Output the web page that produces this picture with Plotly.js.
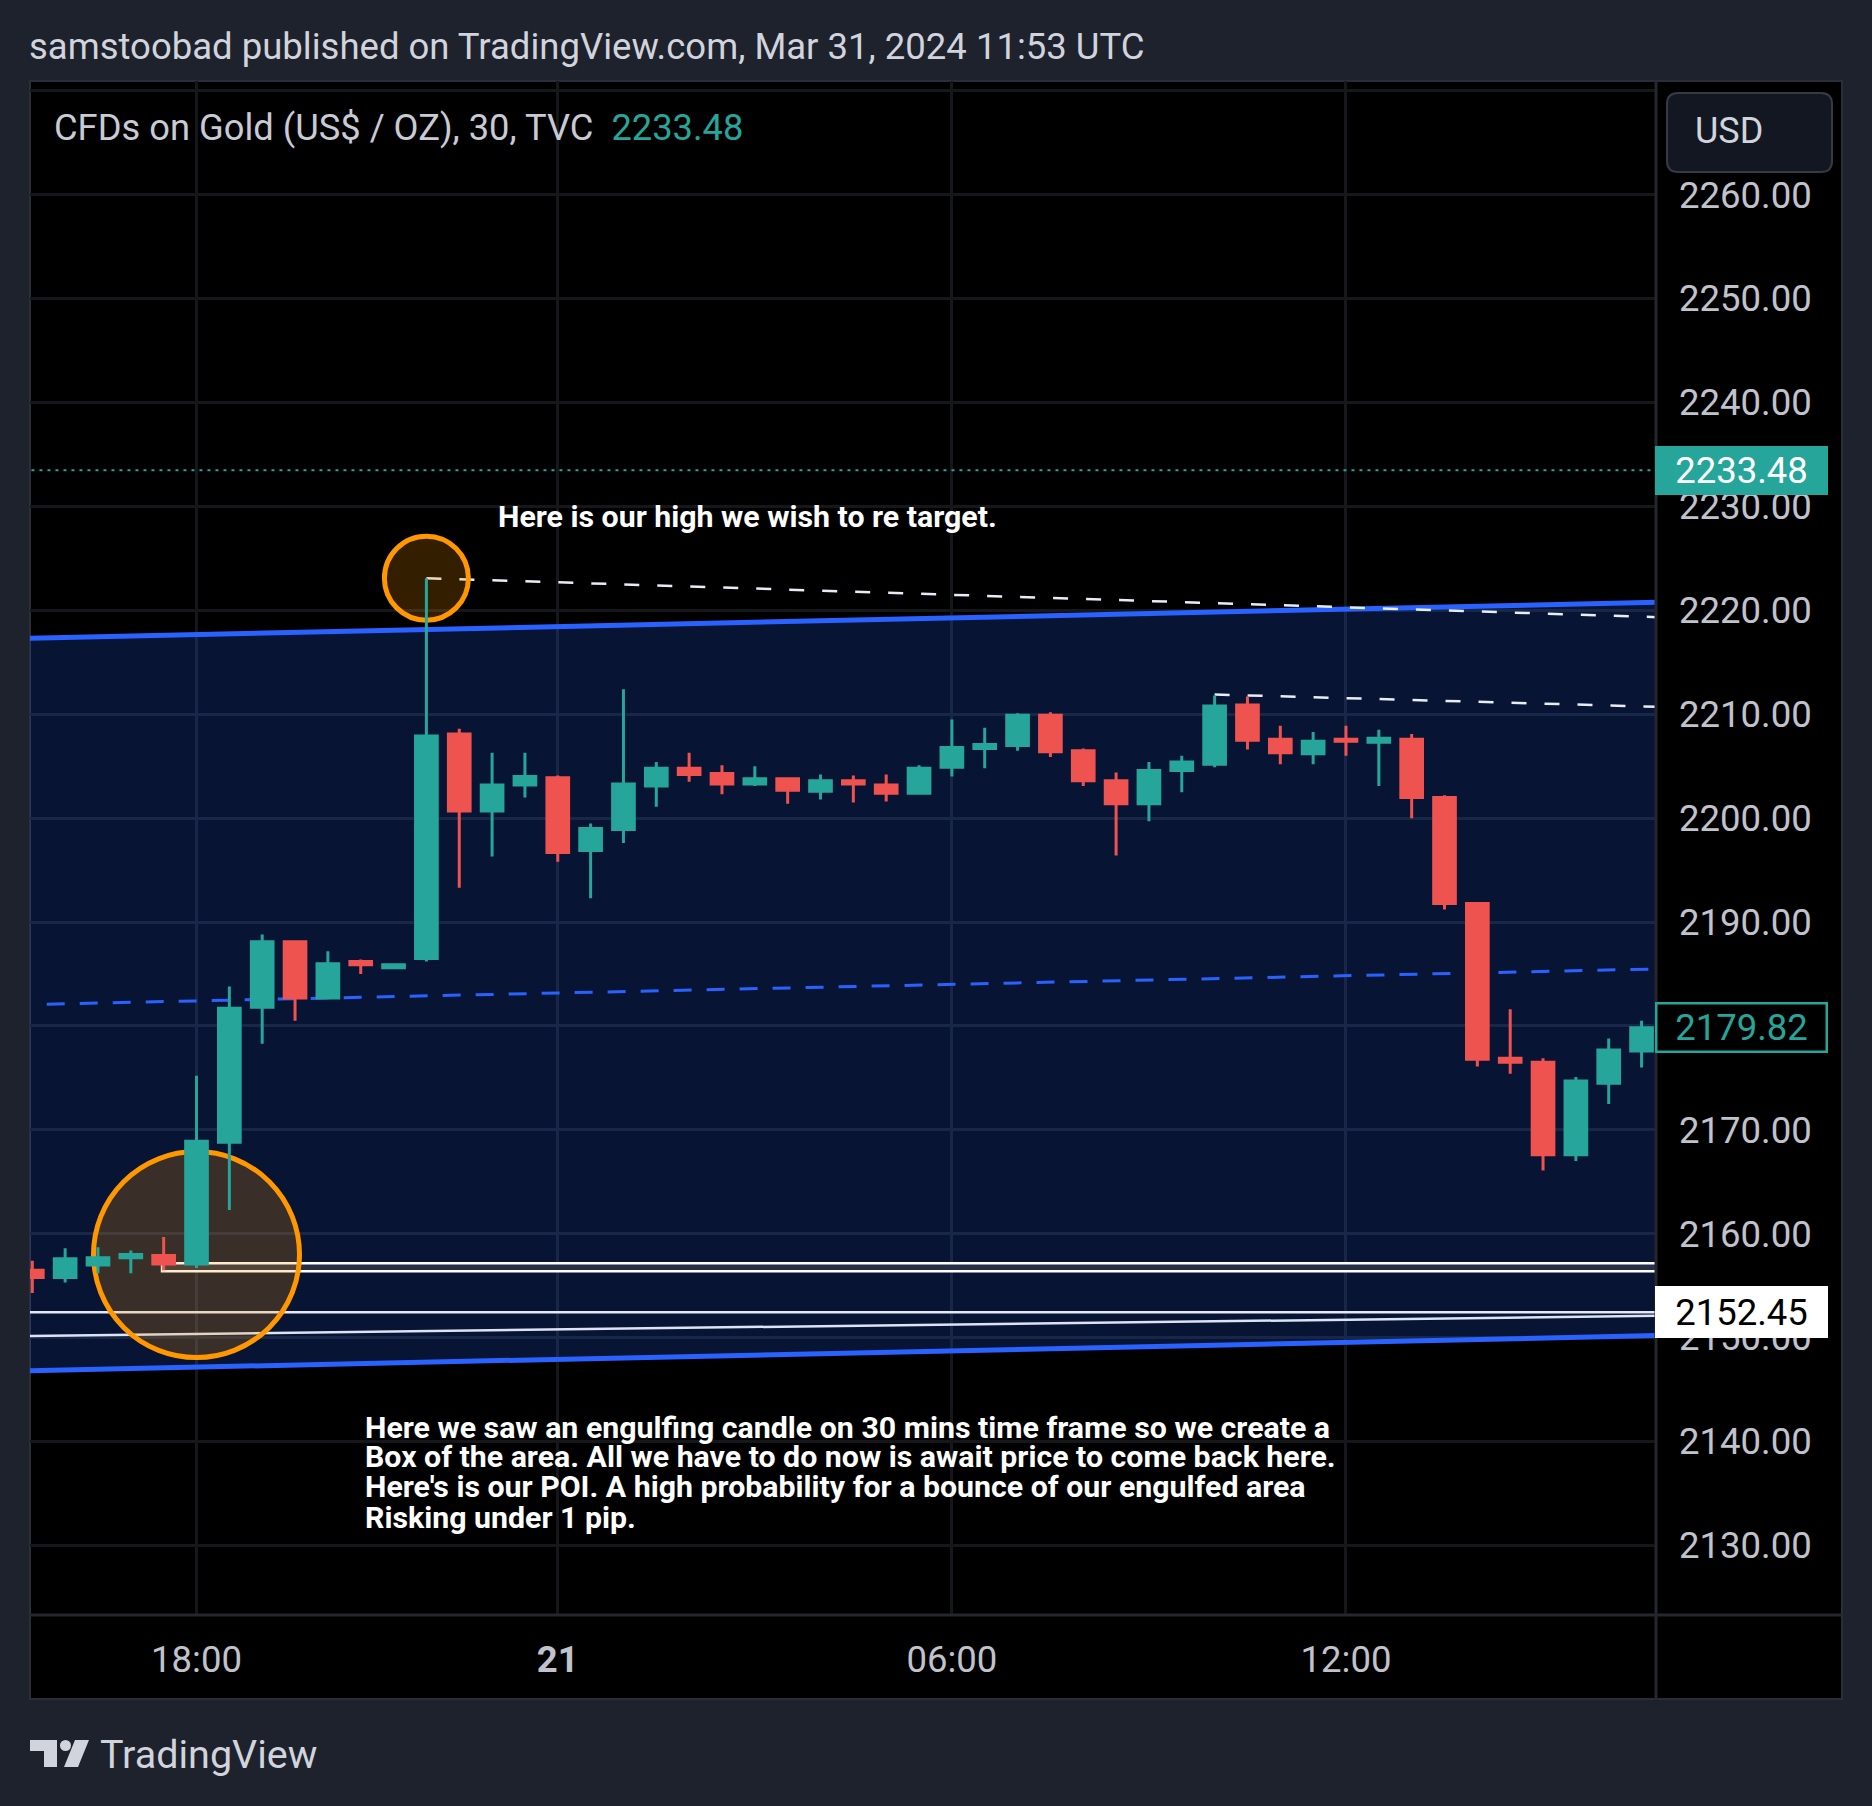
<!DOCTYPE html>
<html>
<head>
<meta charset="utf-8">
<script src="https://cdn.plot.ly/plotly-3.0.1.min.js"></script>
<style>
html,body{margin:0;padding:0;background:#1e222d;}
#chart{width:1872px;height:1806px;}
</style>
</head>
<body>
<div id="chart"></div>
<script>
// ---------------- DATA ----------------
const bars = [0,1,2,3,4,5,6,7,8,9,10,11,12,13,14,15,16,17,18,19,20,21,22,23,24,25,26,27,28,29,30,31,32,33,34,35,36,37,38,39,40,41,42,43,44,45,46,47,48,49];
const opens  = [2156.5,2155.8,2157.0,2157.7,2157.9,2157.1,2168.8,2181.8,2188.1,2182.7,2186.2,2185.6,2186.5,2208.1,2200.7,2203.2,2203.9,2196.9,2198.9,2203.1,2204.8,2204.3,2203.3,2203.8,2202.6,2203.6,2203.2,2202.4,2204.9,2206.7,2207.0,2209.9,2206.5,2203.6,2201.4,2204.6,2205.2,2210.9,2207.6,2206.2,2207.6,2207.3,2207.6,2202.0,2191.8,2176.9,2176.5,2167.6,2174.5,2177.6];
const highs  = [2157.4,2158.6,2158.7,2158.4,2159.7,2175.2,2183.8,2188.8,2188.1,2187.2,2186.4,2185.9,2223.1,2208.6,2206.3,2206.3,2204.1,2199.5,2212.4,2205.4,2206.3,2205.1,2205.0,2203.9,2204.2,2204.1,2204.2,2205.1,2209.5,2208.7,2210.1,2210.2,2206.7,2204.4,2205.4,2206.0,2211.8,2211.7,2208.9,2208.3,2208.9,2208.5,2208.1,2202.2,2191.9,2181.6,2176.9,2175.1,2178.8,2180.5];
const lows   = [2154.3,2155.3,2156.2,2156.2,2156.5,2156.7,2162.3,2178.3,2180.5,2182.6,2185.0,2185.6,2186.2,2193.3,2196.3,2202.0,2195.8,2192.3,2197.6,2201.1,2203.5,2202.3,2203.1,2201.4,2201.8,2201.5,2201.6,2202.3,2204.0,2204.8,2206.5,2205.9,2203.1,2196.4,2199.7,2202.5,2204.9,2206.6,2205.2,2205.2,2206.0,2203.1,2200.0,2191.2,2176.1,2175.4,2166.1,2167.0,2172.5,2176.0];
const closes = [2155.8,2157.6,2157.7,2158.0,2157.1,2168.9,2181.7,2188.1,2182.7,2186.0,2185.9,2185.9,2207.9,2200.7,2203.2,2204.0,2196.7,2199.0,2203.3,2204.8,2204.2,2203.3,2203.8,2202.7,2203.6,2203.3,2202.4,2204.8,2206.8,2207.1,2209.9,2206.4,2203.6,2201.4,2204.6,2205.4,2210.8,2207.5,2206.3,2207.4,2207.4,2207.7,2202.0,2191.8,2176.8,2176.5,2167.6,2174.7,2177.7,2179.82];

const timeTickBars   = [5,16,28,40];
const timeTickLabels = ['18:00','<b>21</b>','06:00','12:00'];
const priceTicks     = [2130,2140,2150,2160,2170,2180,2190,2200,2210,2220,2230,2240,2250,2260,2270];
const priceTickText  = ['2130.00','2140.00','2150.00','2160.00','2170.00','','2190.00','2200.00','2210.00','2220.00','2230.00','2240.00','2250.00','2260.00',''];

const markPrice  = 2233.48;
const lastPrice  = 2179.82;
const levelPrice = 2152.45;

const headerText  = 'samstoobad published on TradingView.com, Mar 31, 2024 11:53 UTC';
const symbolText  = 'CFDs on Gold (US$ / OZ), 30, TVC';
const currencyText = 'USD';
const brandText   = 'TradingView';
const noteHigh    = 'Here is our high we wish to re target.';
const noteLines   = [
  'Here we saw an engulfing candle on 30 mins time frame so we create a',
  'Box of the area. All we have to do now is await price to come back here.',
  "Here's is our POI. A high probability for a bounce of our engulfed area",
  'Risking under 1 pip.'
];
const noteLinePrices = [2141.4, 2138.55, 2135.65, 2132.7];

// drawing anchors (bar index / price)
const channelX     = [-0.07, 49.47];
const channelUpper = [2217.31, 2220.78];
const channelLower = [2146.82, 2150.20];
const highRayX  = [12, 49.47];
const highRayY  = [2223.1, 2219.35];
const highRay2X = [36, 49.47];
const highRay2Y = [2211.9, 2210.72];
const boxX  = [3.95, 49.6];
const boxY  = [2156.39, 2157.16];
const slantX = [-0.07, 49.47];
const slantY = [2150.17, 2152.1];
const circleHigh = {bar: 12, price: 2223.1, r: 42};
const circleLow  = {bar: 5,  price: 2158.0, r: 103};

// ---------------- LAYOUT HELPERS ----------------
const W = 1872, H = 1806;
const PL = 30, PR = 1657, PT = 81, PB = 1615;
const fx = x => (x - PL) / (PR - PL);
const fy = y => (PB - y) / (PB - PT);

function roundRectPath(x0, y0, x1, y1, r) {
  const P = (x, y) => fx(x) + ',' + fy(y);
  return 'M' + P(x0 + r, y0) + ' L' + P(x1 - r, y0) + ' Q' + P(x1, y0) + ' ' + P(x1, y0 + r) +
         ' L' + P(x1, y1 - r) + ' Q' + P(x1, y1) + ' ' + P(x1 - r, y1) +
         ' L' + P(x0 + r, y1) + ' Q' + P(x0, y1) + ' ' + P(x0, y1 - r) +
         ' L' + P(x0, y0 + r) + ' Q' + P(x0, y0) + ' ' + P(x0 + r, y0) + ' Z';
}
function pxPath(pts) {
  return 'M' + pts.map(p => fx(p[0]) + ',' + fy(p[1])).join(' L') + ' Z';
}

const upperAt = x => channelUpper[0] + (channelUpper[1] - channelUpper[0]) * (x - channelX[0]) / (channelX[1] - channelX[0]);
const lowerAt = x => channelLower[0] + (channelLower[1] - channelLower[0]) * (x - channelX[0]) / (channelX[1] - channelX[0]);

const BLUE = '#2962ff', TEAL = '#26a69a', RED = '#ef5350', ORANGE = '#ff9800';

const shapes = [
  {type:'rect', xref:'paper', yref:'paper', x0:fx(30), x1:fx(1842), y0:fy(1699), y1:fy(81),
   fillcolor:'#000000', line:{color:'#2a2e39', width:2}, layer:'below'},
  {type:'path', xref:'x', yref:'y', layer:'between',
   path:'M' + (-1) + ',' + upperAt(-1) + ' L' + 51 + ',' + upperAt(51) + ' L' + 51 + ',' + lowerAt(51) + ' L' + (-1) + ',' + lowerAt(-1) + ' Z',
   fillcolor:'rgba(41,98,255,0.2)', line:{width:0}},
  {type:'rect', xref:'x', yref:'y', layer:'between', x0:boxX[0], x1:boxX[1], y0:boxY[0], y1:boxY[1],
   fillcolor:'#283048', line:{color:'#ffffff', width:2.5}},
  {type:'line', xref:'x', yref:'y', layer:'between', x0:-1, x1:51, y0:levelPrice, y1:levelPrice,
   line:{color:'#e4e9f5', width:2.5}},
  {type:'line', xref:'x', yref:'y', layer:'between', x0:slantX[0], x1:slantX[1], y0:slantY[0], y1:slantY[1],
   line:{color:'#dbe3f5', width:2.5}},
  {type:'line', xref:'x', yref:'y', layer:'between', x0:-1, x1:51, y0:upperAt(-1), y1:upperAt(51),
   line:{color:BLUE, width:5}},
  {type:'line', xref:'x', yref:'y', layer:'between', x0:-1, x1:51, y0:lowerAt(-1), y1:lowerAt(51),
   line:{color:BLUE, width:5}},
  {type:'line', xref:'x', yref:'y', layer:'between', x0:0.44, x1:51, y0:(upperAt(0.44)+lowerAt(0.44))/2, y1:(upperAt(51)+lowerAt(51))/2,
   line:{color:BLUE, width:3, dash:'18px,15px'}},
  {type:'line', xref:'x', yref:'y', layer:'between', x0:highRayX[0], x1:highRayX[1], y0:highRayY[0], y1:highRayY[1],
   line:{color:'#e8ecf6', width:2.5, dash:'15px,18px'}},
  {type:'line', xref:'x', yref:'y', layer:'between', x0:highRay2X[0], x1:highRay2X[1], y0:highRay2Y[0], y1:highRay2Y[1],
   line:{color:'#e8ecf6', width:2.5, dash:'15px,18px'}},
  {type:'line', xref:'x', yref:'y', layer:'between', x0:-1, x1:51, y0:markPrice, y1:markPrice,
   line:{color:TEAL, width:2, dash:'3px,5px'}},
  {type:'circle', xref:'x', yref:'y', layer:'between', xsizemode:'pixel', ysizemode:'pixel',
   xanchor:circleHigh.bar, yanchor:circleHigh.price, x0:-circleHigh.r, x1:circleHigh.r, y0:-circleHigh.r, y1:circleHigh.r,
   fillcolor:'rgba(255,152,0,0.2)', line:{color:ORANGE, width:5}},
  {type:'circle', xref:'x', yref:'y', layer:'between', xsizemode:'pixel', ysizemode:'pixel',
   xanchor:circleLow.bar, yanchor:circleLow.price, x0:-circleLow.r, x1:circleLow.r, y0:-circleLow.r, y1:circleLow.r,
   fillcolor:'rgba(255,152,0,0.2)', line:{color:ORANGE, width:5}},
  {type:'line', xref:'paper', yref:'paper', x0:fx(1656), x1:fx(1656), y0:fy(1699), y1:fy(81),
   line:{color:'#25272d', width:3}, layer:'above'},
  {type:'line', xref:'paper', yref:'paper', x0:fx(30), x1:fx(1842), y0:fy(1615), y1:fy(1615),
   line:{color:'#25272d', width:3}, layer:'above'},
  {type:'path', xref:'paper', yref:'paper', path:roundRectPath(1667, 93, 1832, 172, 11),
   fillcolor:'#131722', line:{color:'#363a45', width:2}, layer:'above'},
  {type:'path', xref:'paper', yref:'paper', layer:'above', line:{width:0}, fillcolor:'#d1d4dc',
   path:pxPath([[30,1740],[57,1740],[57,1767],[44,1767],[44,1751],[30,1751]])},
  {type:'circle', xref:'paper', yref:'paper', layer:'above', line:{width:0}, fillcolor:'#d1d4dc',
   x0:fx(60), x1:fx(71), y0:fy(1751), y1:fy(1740)},
  {type:'path', xref:'paper', yref:'paper', layer:'above', line:{width:0}, fillcolor:'#d1d4dc',
   path:pxPath([[75,1740],[89,1740],[78,1767],[64,1767]])}
];

const axisFont = {family:'Roboto, sans-serif', size:36.5, color:'#c0c3cb'};
const noteFont = {family:'Roboto, sans-serif', size:30.3, color:'#ffffff', weight:700};

const annotations = [
  {xref:'paper', yref:'paper', x:fx(30), y:fy(46), xanchor:'left', yanchor:'middle', xshift:-3,
   text:headerText, showarrow:false, font:{family:'Roboto, sans-serif', size:36.5, color:'#d1d4dc'}},
  {xref:'paper', yref:'paper', x:fx(55), y:fy(127), xanchor:'left', yanchor:'middle', xshift:-3,
   text:symbolText + '  <span style="color:' + TEAL + '">' + markPrice.toFixed(2) + '</span>', showarrow:false,
   font:{family:'Roboto, sans-serif', size:36.3, color:'#c8cbd3'}},
  {xref:'paper', yref:'paper', x:fx(1729), y:fy(131), xanchor:'center', yanchor:'middle',
   text:currencyText, showarrow:false, font:{family:'Roboto, sans-serif', size:36, color:'#d1d4dc'}},
  {xref:'paper', yref:'paper', x:fx(101), y:fy(1754), xanchor:'left', yanchor:'middle', xshift:-3,
   text:brandText, showarrow:false, font:{family:'Roboto, sans-serif', size:39.5, color:'#d1d4dc'}},
  {xref:'paper', yref:'y', x:1, y:markPrice, xanchor:'left', yanchor:'middle', xshift:-2,
   text:markPrice.toFixed(2), showarrow:false, font:{family:'Roboto, sans-serif', size:36.5, color:'#ffffff'},
   bgcolor:TEAL, bordercolor:TEAL, borderwidth:2, borderpad:0, width:169, height:45, align:'center'},
  {xref:'paper', yref:'y', x:1, y:lastPrice, xanchor:'left', yanchor:'middle', xshift:-2,
   text:lastPrice.toFixed(2), showarrow:false, font:{family:'Roboto, sans-serif', size:36.5, color:TEAL},
   bgcolor:'#000000', bordercolor:TEAL, borderwidth:2.5, borderpad:0, width:168, height:46, align:'center'},
  {xref:'paper', yref:'y', x:1, y:levelPrice, xanchor:'left', yanchor:'middle', xshift:-2,
   text:levelPrice.toFixed(2), showarrow:false, font:{family:'Roboto, sans-serif', size:36.5, color:'#000000'},
   bgcolor:'#ffffff', bordercolor:'#ffffff', borderwidth:2, borderpad:0, width:169, height:48, align:'center'},
  {xref:'x', yref:'y', x:14.18, y:2229.0, xanchor:'left', yanchor:'middle', xshift:-2,
   text:noteHigh, showarrow:false, font:{family:'Roboto, sans-serif', size:30.3, color:'#ffffff', weight:700}}
];
noteLines.forEach((t, i) => {
  annotations.push({xref:'x', yref:'y', x:10.14, y:noteLinePrices[i], xanchor:'left', yanchor:'middle', xshift:-2,
    text:t, showarrow:false, font:noteFont});
});

const trace = {
  type:'candlestick', x:bars, open:opens, high:highs, low:lows, close:closes,
  increasing:{line:{color:TEAL, width:3}, fillcolor:TEAL},
  decreasing:{line:{color:RED, width:3}, fillcolor:RED},
  whiskerwidth:0, hoverinfo:'skip', showlegend:false
};

const layout = {
  width:W, height:H,
  margin:{l:PL, r:W-PR, t:PT, b:H-PB, pad:0},
  paper_bgcolor:'#1e222d', plot_bgcolor:'#000000',
  showlegend:false, dragmode:false,
  boxgap:0.34, boxgroupgap:0,
  xaxis:{type:'linear', range:[channelX[0], channelX[1]], rangeslider:{visible:false},
    tickmode:'array', tickvals:timeTickBars, ticktext:timeTickLabels,
    showgrid:true, gridcolor:'#15171b', gridwidth:3, zeroline:false, showline:false, ticks:'',
    tickfont:axisFont, ticklabelstandoff:19, fixedrange:true},
  yaxis:{type:'linear', side:'right', range:[2123.31, 2270.95],
    tickmode:'array', tickvals:priceTicks, ticktext:priceTickText,
    showgrid:true, gridcolor:'#15171b', gridwidth:3, zeroline:false, showline:false, ticks:'',
    tickfont:axisFont, ticklabelstandoff:21, fixedrange:true},
  shapes:shapes,
  annotations:annotations
};

Plotly.newPlot('chart', [trace], layout, {staticPlot:true, displayModeBar:false});
</script>
</body>
</html>
